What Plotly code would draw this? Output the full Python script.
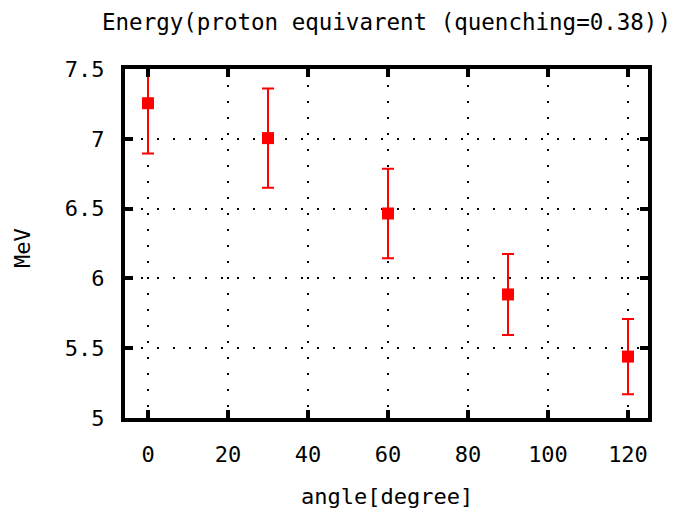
import plotly.graph_objects as go

angles = [0, 30, 60, 90, 120]
energy = [7.255, 7.005, 6.465, 5.885, 5.44]
energy_err = [0.36, 0.355, 0.32, 0.29, 0.27]

x_ticks = [0, 20, 40, 60, 80, 100, 120]
y_ticks = [5, 5.5, 6, 6.5, 7, 7.5]
y_tick_labels = ["5", "5.5", "6", "6.5", "7", "7.5"]

FONT = "DejaVu Sans Mono"

fig = go.Figure()
fig.add_trace(go.Scatter(
    x=angles, y=energy,
    mode="markers",
    marker=dict(symbol="square", size=12, color="#ff0000"),
    error_y=dict(type="data", array=energy_err, visible=True,
                 color="#ff0000", thickness=2, width=6),
    showlegend=False,
))

axis_common = dict(
    showline=True, linecolor="black", linewidth=4, mirror="ticks",
    ticks="inside", ticklen=8, tickwidth=4, tickcolor="black",
    showgrid=True, gridcolor="black", gridwidth=2, griddash="2px,14px",
    zeroline=False,
    tickfont=dict(family=FONT, size=22, color="black"),
)

fig.update_xaxes(range=[-5.75, 125], tickvals=x_ticks, ticklabelstandoff=14, **axis_common)
fig.update_yaxes(range=[5, 7.5], tickvals=y_ticks, ticktext=y_tick_labels,
                 ticklabelstandoff=12, **axis_common)

fig.update_layout(
    width=675, height=511,
    margin=dict(l=125, r=27, t=69, b=93),
    plot_bgcolor="white", paper_bgcolor="white",
    title=dict(text="Energy(proton equivarent (quenching=0.38))",
               font=dict(family=FONT, size=22.5, color="black"),
               x=0.5, xref="paper", y=1 - 22 / 511, yref="container",
               xanchor="center", yanchor="middle"),
    annotations=[
        dict(text="angle[degree]", xref="paper", yref="paper",
             x=0.5, y=-(496 - 418) / 349, xanchor="center", yanchor="middle",
             showarrow=False, font=dict(family=FONT, size=22, color="black")),
        dict(text="MeV", xref="paper", yref="paper",
             x=-(125 - 22) / 523, y=(418 - 248) / 349, xanchor="center", yanchor="middle",
             textangle=-90, showarrow=False,
             font=dict(family=FONT, size=22, color="black")),
    ],
)

fig.write_html("out.html")
